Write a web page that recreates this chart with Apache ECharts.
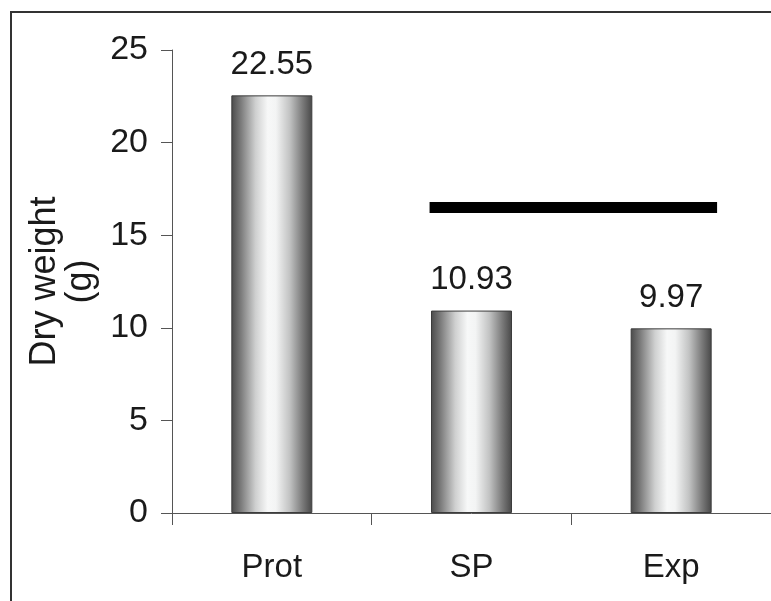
<!DOCTYPE html>
<html>
<head>
<meta charset="utf-8">
<script src="https://cdn.jsdelivr.net/npm/echarts@6/dist/echarts.min.js"></script>
<style>
  html, body { margin: 0; padding: 0; background: #fff; }
  #chart { width: 771px; height: 601px; }
</style>
</head>
<body>
<div id="chart"></div>
<script>
// Treatment groups and their mean dry weight (g)
const categories = ['Prot', 'SP', 'Exp'];
const dryWeight = [22.55, 10.93, 9.97];

// Value axis ticks
const yMin = 0;
const yMax = 25;
const yStep = 5;

// Bar joining the two groups that do not differ (x in category units, y in g)
const bracketX = [0.79, 2.23];
const bracketLevel = 16.5;

const textColor = '#1a1a1a';
const axisColor = '#555';
const fontFamily = '"Liberation Sans", Arial, Helvetica, sans-serif';

// Cylinder-like shading across each bar
const barFill = new echarts.graphic.LinearGradient(0, 0, 1, 0, [
  { offset: 0.00, color: '#4a4a4a' },
  { offset: 0.12, color: '#7c7c7c' },
  { offset: 0.30, color: '#cfd0d0' },
  { offset: 0.45, color: '#f7f8f8' },
  { offset: 0.55, color: '#f3f4f4' },
  { offset: 0.72, color: '#c2c3c3' },
  { offset: 0.88, color: '#7a7a7a' },
  { offset: 1.00, color: '#474747' }
]);

const chart = echarts.init(document.getElementById('chart'), null, { renderer: 'canvas' });

chart.setOption({
  animation: false,
  backgroundColor: '#fff',
  graphic: [{
    type: 'rect',
    shape: { x: 11, y: 12, width: 800, height: 700 },
    style: { fill: 'none', stroke: '#333', lineWidth: 2 },
    silent: true,
    z: 100
  }],
  grid: { left: 172, top: 50, right: -4, bottom: 88, containLabel: false },
  xAxis: [{
    type: 'category',
    data: categories,
    boundaryGap: true,
    axisLine: { onZero: false, lineStyle: { color: axisColor, width: 1 } },
    axisTick: { show: true, length: 12, inside: false, lineStyle: { color: axisColor } },
    axisLabel: { color: textColor, fontSize: 33, fontFamily: fontFamily, margin: 38 },
    splitLine: { show: false }
  }, {
    type: 'value',
    min: -0.5,
    max: 2.5,
    show: false
  }],
  yAxis: {
    type: 'value',
    min: yMin,
    max: yMax,
    interval: yStep,
    name: 'Dry weight\n(g)',
    nameLocation: 'middle',
    nameGap: 73,
    nameRotate: 90,
    nameTextStyle: { color: textColor, fontSize: 36, fontFamily: fontFamily, lineHeight: 36 },
    axisLine: { show: true, onZero: false, lineStyle: { color: axisColor, width: 1 } },
    axisTick: { show: true, length: 11, lineStyle: { color: axisColor } },
    axisLabel: { color: textColor, fontSize: 34, fontFamily: fontFamily, margin: 24 },
    splitLine: { show: false }
  },
  series: [{
    type: 'bar',
    xAxisIndex: 0,
    data: dryWeight,
    barWidth: 81,
    itemStyle: { color: barFill, borderColor: '#3c3c3c', borderWidth: 1 },
    label: {
      show: true,
      position: 'top',
      distance: 14,
      color: textColor,
      fontSize: 33,
      fontFamily: fontFamily,
      formatter: p => p.value.toFixed(2)
    }
  }, {
    type: 'line',
    xAxisIndex: 1,
    data: bracketX.map(x => [x, bracketLevel]),
    symbol: 'none',
    lineStyle: { color: '#000', width: 11, cap: 'butt' },
    z: 5
  }]
});
</script>
</body>
</html>
